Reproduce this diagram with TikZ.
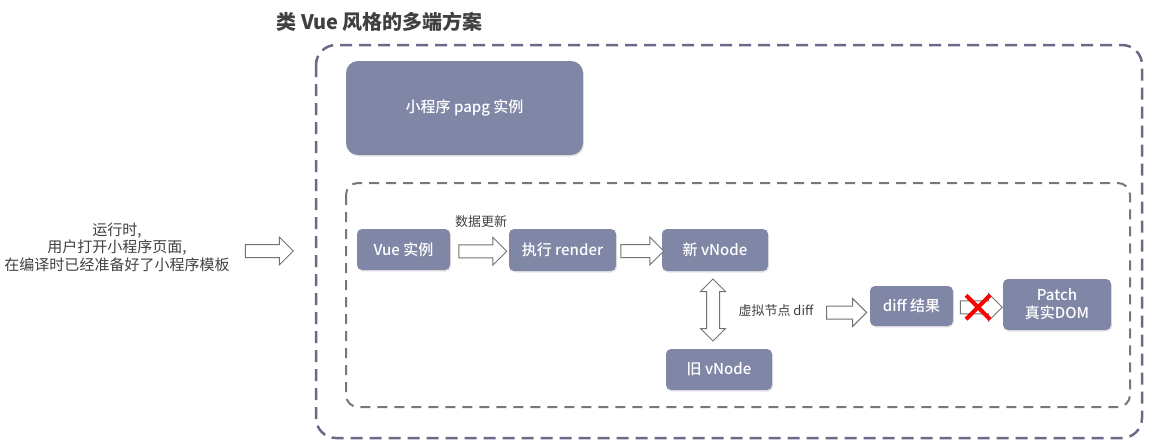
\documentclass[tikz,border=0pt]{standalone}
\usepackage{fontspec}
\setmainfont{Noto Sans CJK SC}
\newfontfamily\medfont{Noto Sans CJK SC}[UprightFont=* Medium]
\usepackage{xcolor}
\usetikzlibrary{shapes,arrows,shadows,calc}
\definecolor{boxblue}{RGB}{128,134,166}
\definecolor{outerdash}{RGB}{104,107,134}
\definecolor{innerdash}{RGB}{118,118,124}
\definecolor{textgray}{RGB}{64,64,64}
\tikzstyle{block} = [rectangle, rounded corners=5pt, fill=boxblue, text=white, align=center, font=\medfont\fontsize{15}{18}\selectfont, drop shadow={shadow xshift=1pt, shadow yshift=-1.5pt, opacity=0.2}]
\tikzstyle{hollow} = [single arrow, draw=gray!90!black, fill=white, line width=1pt, inner sep=6pt, single arrow head extend=7.5pt, single arrow tip angle=90]
\tikzstyle{hollowboth} = [double arrow, draw=gray!90!black, fill=white, line width=1pt, inner sep=6pt, double arrow head extend=6pt, double arrow tip angle=90, shape border rotate=90]
\tikzstyle{note} = [text=textgray, font=\fontsize{13}{15}\selectfont]

\begin{document}
\begin{tikzpicture}[x=1pt, y=-1pt]
\useasboundingbox (0,0) rectangle (1151,447);
% frames
\node [text=textgray, font=\fontsize{20}{22}\selectfont\bfseries, anchor=west] (title) at (273,22) {类 Vue 风格的多端方案};
\draw [draw=outerdash, line width=2.5pt, dash pattern=on 12pt off 7pt, rounded corners=20pt] (316,45) rectangle (1142,438);
\draw [draw=innerdash, line width=2pt, dash pattern=on 10pt off 7pt, rounded corners=12pt] (346,183) rectangle (1130,407);
% blocks
\node [block, rounded corners=12pt, minimum width=237pt, minimum height=94pt] (page) at (464.5,108) {小程序 papg 实例};
\node [block, minimum width=93pt, minimum height=41pt] (vue) at (403.5,249.5) {Vue 实例};
\node [block, minimum width=107pt, minimum height=42pt] (render) at (562.5,250) {执行 render};
\node [block, minimum width=106pt, minimum height=42pt] (newv) at (715,250) {新 vNode};
\node [block, minimum width=106pt, minimum height=41pt] (oldv) at (719,369.5) {旧 vNode};
\node [block, minimum width=83pt, minimum height=40pt] (diffres) at (911.5,306) {diff 结果};
\node [block, minimum width=108pt, minimum height=51pt, font=\medfont\fontsize{15}{18}\selectfont] (patch) at (1057,304.5) {Patch\\真实DOM};
% texts
\node [note, align=center, font=\fontsize{15}{17.5}\selectfont] (runtime) at (117,247) {运行时,\\用户打开小程序页面,\\在编译时已经准备好了小程序模板};
\node [note] (update) at (481,222) {数据更新};
\node [note] (vdiff) at (776,311) {虚拟节点 diff};
% arrows
\node [hollow, minimum height=48pt] (a0) at (266,251) {};
\node [hollow, minimum height=48pt] (a1) at ($(vue.east)!0.5!(render.west)+(0,1.5)$) {};
\node [hollow, minimum height=43pt] (a2) at ($(render.east)!0.5!(newv.west)+(0,1)$) {};
\node [hollowboth, minimum height=62pt] (a3) at ($(newv.south)!0.5!(oldv.north)+(-4,0)$) {};
\node [hollow, minimum height=40pt] (a4) at ($(vdiff.east)!0.5!(diffres.west)+(0,4)$) {};
\node [hollow, minimum height=42pt] (a5) at ($(diffres.east)!0.5!(patch.west)+(0,2)$) {};
\draw [red, line width=4pt] ($(a5)+(-12,-12)$) -- ($(a5)+(12,12)$) ($(a5)+(-12,12)$) -- ($(a5)+(12,-12)$);
\end{tikzpicture}
\end{document}
